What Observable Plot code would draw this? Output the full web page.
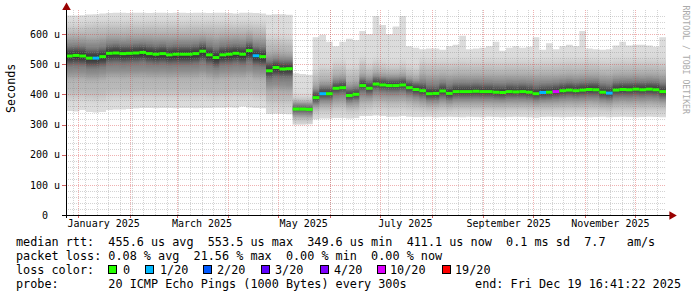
<!DOCTYPE html>
<html><head><meta charset="utf-8">
<script src="https://cdn.jsdelivr.net/npm/d3@7"></script>
<script src="https://cdn.jsdelivr.net/npm/@observablehq/plot@0.6"></script>
<style>
body{margin:0;background:#fff;}
#wrap{position:relative;width:697px;height:297px;overflow:hidden;font-family:"DejaVu Sans Mono",monospace;background:#fff;}
#wrap svg{position:absolute;left:0;top:0;}
.lg{position:absolute;font-size:11.8px;line-height:14px;white-space:pre;color:#000;}
.sw{position:absolute;width:7px;height:7px;border:1px solid #000;}
</style></head><body><div id="wrap"></div>
<script>
// ---- time frame ----
const END = Date.UTC(2025, 11, 19, 16, 41, 22);
const DAY = 86400000;
const SPAN_DAYS = 360;
const STEP_DAYS = 4;
const START = END - SPAN_DAYS * DAY;

// ---- median rtt per 4-day step (microseconds) ----
const med = [529,531,529,522,522,527,538,539,537,538,539,541,537,535,537,533,535,535,535,537,545,533,524,533,535,538,535,547,530,527,
  480,491,486,487, 353,353,352, 391,404,404,422,424,398,402,431, 422,436,433,431,431,433,424,418,
  414,404,405,413,405,411,411,411,412,411,411,409,408,411,410,411,409,404,408,409,411,414,416,414,416,418,417,409,406,416,418,417,419,417,419,417,411];
// ---- loss bucket index per step ----
const loss = [0,0,0,0,1,0,0,0,0,0,0,0,0,0,0,0,0,0,0,0,0,0,0,0,0,0,0,0,1,0,
  0,0,0,0, 0,0,0, 0,1,0,0,0,0,0,0, 0,0,0,0,0,0,0,0,
  0,0,0,0,0,0,0,0,0,0,0,0,0,0,0,0,0,0,1,0,5,0,0,0,0,0,0,0,1,0,0,0,0,0,0,0,0];
// ---- smoke envelopes (outer -> core) ----
const smokeMax = [662,662,663,665,666,668,670,671,671,670,671,671,670,671,671,670,671,671,670,671,671,670,671,671,670,668,671,671,670,668,
  664,666,666,664, 470,468,465, 590,598,575,560,575,585,580,610, 600,660,630,600,625,660,560,555,
  550,552,552,548,560,565,595,550,552,555,560,575,545,555,560,555,558,590,548,570,550,560,565,560,610,552,550,548,550,562,575,562,565,565,562,558,590];
const smokeHi1 = [622,622,624,628,630,630,632,632,630,632,632,630,632,632,630,632,632,630,632,632,630,632,630,630,630,628,630,630,628,625,
  582,582,580,578, 382,380,380, 470,482,480,495,495,478,480,505, 490,500,495,490,490,495,485,480,
  502,498,498,500,498,500,502,500,500,500,501,499,498,500,500,500,499,498,499,499,500,502,503,502,503,504,503,499,498,503,504,503,504,503,504,503,500];
const smokeHi2 = [582,582,582,580,580,583,588,588,586,588,588,588,588,586,587,586,587,587,587,588,590,586,582,586,587,588,587,592,584,582,
  530,532,530,528, 367,366,366, 425,438,438,455,458,432,436,462, 455,465,462,460,460,462,452,448,
  460,455,455,458,455,457,458,457,458,457,457,456,456,457,457,457,456,455,456,456,457,459,460,459,460,461,461,456,455,460,461,461,462,461,462,461,457];
const smokeHi3 = [548,550,548,542,542,546,556,557,555,556,557,559,555,553,555,551,553,553,553,555,562,551,543,551,553,556,553,563,548,545,
  500,506,502,502, 359,359,358, 403,416,416,434,436,410,414,443, 435,449,446,444,444,446,437,431,
  429,419,420,428,420,426,426,426,427,426,426,424,423,426,425,426,424,419,423,424,426,429,431,429,431,433,432,424,421,431,433,432,434,432,434,432,426];
const smokeLo3 = [505,507,505,498,498,503,513,514,512,513,514,516,512,510,512,508,510,510,510,512,518,508,500,508,510,513,510,520,506,503,
  462,468,465,465, 345,345,344, 379,392,392,410,412,386,390,419, 409,423,420,418,418,420,411,405,
  400,390,391,399,391,397,397,397,398,397,397,395,394,397,396,397,395,390,394,395,397,400,402,400,402,404,403,395,392,402,404,403,405,403,405,403,397];
const smokeLo2 = [462,463,462,458,458,461,467,467,466,467,467,468,466,465,466,464,465,465,465,466,470,464,460,464,465,467,465,470,463,461,
  420,422,420,418, 333,332,332, 362,370,370,378,380,368,370,385, 385,392,390,388,388,390,385,380,
  375,370,370,374,370,373,373,373,373,373,373,372,372,373,373,373,372,370,372,372,373,375,376,375,376,377,376,372,371,376,377,376,377,376,377,376,373];
const smokeLo1 = [392,392,393,390,388,390,396,398,398,398,399,400,399,398,399,398,398,399,399,399,401,398,397,399,400,401,400,402,398,396,
  370,370,368,368, 318,317,317, 340,345,345,350,350,345,346,352, 355,360,358,356,356,358,355,352,
  350,348,348,350,348,350,350,350,350,350,350,349,349,350,350,350,349,348,349,349,350,351,352,351,352,352,352,349,348,352,352,352,352,352,352,352,350];
const smokeMin = [345,343,348,342,340,342,348,350,350,352,353,355,355,354,355,355,354,355,355,354,355,355,356,356,357,356,360,357,355,354,
  335,336,335,334, 300,300,302, 318,320,320,322,322,320,322,328, 328,330,328,326,326,328,326,325,
  325,326,324,325,326,325,324,326,325,324,326,325,324,325,326,325,324,323,325,326,325,324,325,326,325,324,325,326,324,325,326,325,324,325,326,325,324];

// ---- legend / axis text ----
const lossColors = ["#26ff00","#00b8ff","#0059ff","#5e00ff","#7e00ff","#dd00ff","#ff0000"];
const lossLabels = ["0","1/20","2/20","3/20","4/20","10/20","19/20"];
const yMajorTicks = [0,100,200,300,400,500,600];
const yMinorStep = 20;
const yTop = 680;
const legendLine1 = "median rtt:  455.6 us avg  553.5 us max  349.6 us min  411.1 us now  0.1 ms sd  7.7   am/s";
const legendLine2 = "packet loss: 0.08 % avg  21.56 % max  0.00 % min  0.00 % now";
const legendProbe = "probe:       20 ICMP Echo Pings (1000 Bytes) every 300s";
const legendEnd = "end: Fri Dec 19 16:41:22 2025";

// ---- build table ----
const rows = med.map((m, i) => ({
  t: new Date(START + i * STEP_DAYS * DAY),
  t2: new Date(START + (i + 1) * STEP_DAYS * DAY),
  med: m, loss: loss[i],
  mx: smokeMax[i], h1: smokeHi1[i], h2: smokeHi2[i], h3: smokeHi3[i],
  l3: smokeLo3[i], l2: smokeLo2[i], l1: smokeLo1[i], mn: smokeMin[i]
}));
const rowsEnd = [...rows, {...rows[rows.length - 1], t: new Date(END)}];

const weeks = d3.utcSunday.range(new Date(START), new Date(END));
const months = d3.utcMonth.range(new Date(START), new Date(END));
const labelMonths = months.filter(d => d.getUTCMonth() % 2 === 0);
const yMinor = d3.range(yMinorStep, yTop, yMinorStep).filter(v => v % 100 !== 0);
const yMajorGrid = yMajorTicks.filter(v => v > 0);

const FONT = "DejaVu Sans Mono";
const minorGrid = {stroke: "#8c8c8c", strokeOpacity: 0.38, strokeDasharray: "1,1", shapeRendering: "crispEdges"};
const majorGrid = {stroke: "#d63c3c", strokeOpacity: 0.4, strokeDasharray: "1,1", shapeRendering: "crispEdges"};

const band = (lo, hi, fill, cls) => Plot.areaY(rowsEnd, {x: "t", y1: lo, y2: hi, curve: "step-after", fill, className: cls});

const chart = Plot.plot({
  width: 697, height: 232,
  marginLeft: 66, marginRight: 31, marginTop: 10, marginBottom: 17,
  style: {background: "#fff", fontFamily: FONT, fontSize: "10px", color: "#000", overflow: "visible"},
  x: {type: "utc", domain: [new Date(START), new Date(END)], axis: null},
  y: {domain: [0, yTop], axis: null},
  marks: [
    band("mn", "mx", "#dcdcdc", "smoke0"),
    band("l1", "h1", "#b8b8b8", "smoke1"),
    band("l2", "h2", "#858585", "smoke2"),
    band("l3", "h3", "#363636", "smoke3"),
    // grid
    Plot.ruleY(yMinor, {...minorGrid}),
    Plot.ruleX(weeks, {y1: 0, y2: yTop, ...minorGrid}),
    Plot.ruleY(yMajorGrid, {...majorGrid}),
    Plot.ruleX(months, {y1: 0, y2: yTop, ...majorGrid}),
    // ticks
    Plot.ruleX(months, {y1: 0, y2: -9, stroke: "#d06060", shapeRendering: "crispEdges"}),
    Plot.ruleY(yMajorGrid, {x1: new Date(START - 2.4 * DAY), x2: new Date(START), stroke: "#d06060", shapeRendering: "crispEdges"}),
    // median
    Plot.ruleY(rows, {y: "med", x1: "t", x2: "t2", stroke: d => lossColors[d.loss], strokeWidth: 3, strokeLinecap: "butt"}),
    // axes
    Plot.ruleX([new Date(START)], {y1: -10, y2: yTop + 3, stroke: "#000", shapeRendering: "crispEdges"}),
    Plot.ruleY([0], {x1: new Date(START - 2.4 * DAY), x2: new Date(END + 3 * DAY), stroke: "#000", shapeRendering: "crispEdges"}),
    Plot.dot([{x: new Date(START), y: yTop + 10}], {x: "x", y: "y", symbol: "triangle", r: 3.2, fill: "#990000", stroke: "none"}),
    Plot.dot([{x: new Date(END + 3.2 * DAY), y: 0}], {x: "x", y: "y", symbol: "triangle", r: 3.2, rotate: 90, fill: "#990000", stroke: "none"}),
    // labels
    Plot.text(yMajorTicks, {y: d => d, text: d => d === 0 ? "0" : `${d} u`, frameAnchor: "left", dx: -21.5, textAnchor: "middle", fontFamily: FONT, fontSize: 10, fill: "#000"}),
    Plot.text(labelMonths, {x: d => new Date(+d + 15 * DAY), text: d => d3.utcFormat("%B %Y")(d), frameAnchor: "bottom", dy: 11, textAnchor: "middle", fontFamily: FONT, fontSize: 10, fill: "#000"}),
    Plot.text(["Seconds"], {frameAnchor: "left", dx: -55, rotate: -90, fontFamily: FONT, fontSize: 11.7, fill: "#000"}),
    Plot.text(["RRDTOOL / TOBI OETIKER"], {frameAnchor: "top-right", dx: 22, dy: -5, rotate: 90, textAnchor: "start", fontFamily: FONT, fontSize: 8.2, fill: "#aaaaaa"})
  ]
});

// soften the smoke bands vertically so they read as a gradient
const NS = "http://www.w3.org/2000/svg";
const defs = document.createElementNS(NS, "defs");
[["vb1", "0 5"], ["vb2", "0 4"], ["vb3", "0 3"]].forEach(([id, sd]) => {
  const f = document.createElementNS(NS, "filter");
  f.setAttribute("id", id);
  f.setAttribute("x", "-5%"); f.setAttribute("y", "-30%");
  f.setAttribute("width", "110%"); f.setAttribute("height", "160%");
  const b = document.createElementNS(NS, "feGaussianBlur");
  b.setAttribute("stdDeviation", sd);
  f.appendChild(b);
  defs.appendChild(f);
});
chart.insertBefore(defs, chart.firstChild);
[["smoke1", "vb1"], ["smoke2", "vb2"], ["smoke3", "vb3"]].forEach(([cls, id]) => {
  chart.querySelectorAll("." + cls).forEach(g => g.setAttribute("filter", `url(#${id})`));
});

const wrap = document.getElementById("wrap");
wrap.appendChild(chart);

function addLine(text, top, left, extra) {
  const d = document.createElement("div");
  d.className = "lg";
  d.textContent = text;
  d.style.top = top + "px";
  if (left != null) d.style.left = left + "px";
  if (extra) Object.assign(d.style, extra);
  wrap.appendChild(d);
  return d;
}
addLine(legendLine1, 235, 16);
addLine(legendLine2, 249, 16);
addLine("loss color:", 263, 16);
const swX = [108, 145, 203, 261, 320, 377, 442];
const lbX = [123, 160, 217, 275, 334, 390, 455];
lossColors.forEach((c, i) => {
  const s = document.createElement("div");
  s.className = "sw";
  s.style.left = swX[i] + "px";
  s.style.top = "265px";
  s.style.background = c;
  wrap.appendChild(s);
  addLine(lossLabels[i], 263, lbX[i]);
});
addLine(legendProbe, 277, 16);
addLine(legendEnd, 277, null, {right: "16px", textAlign: "right"});
</script></body></html>
